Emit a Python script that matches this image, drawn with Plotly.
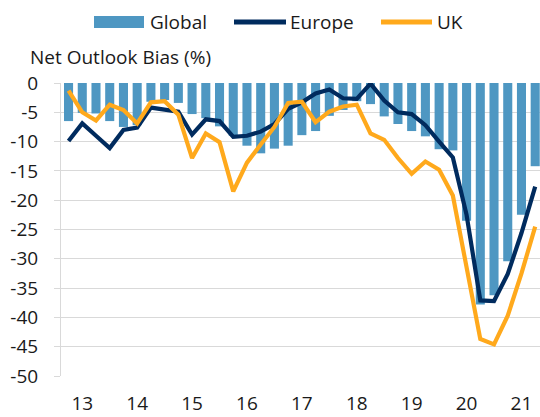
import plotly.graph_objects as go

# Quarterly observations (index 0 = first quarter shown)
quarter_index = list(range(35))
global_bias = [-6.5, -5.1, -5.2, -6.5, -7.5, -7.2, -3.2, -2.9, -3.4, -5.3,
               -6.0, -7.4, -9.0, -10.7, -12.0, -11.2, -10.7, -8.9, -8.2, -5.6,
               -4.6, -3.1, -3.6, -5.7, -7.0, -8.2, -9.1, -11.3, -11.5, -23.5,
               -37.8, -36.2, -30.4, -22.5, -14.2]
europe_bias = [-9.9, -6.9, -9.0, -11.1, -8.0, -7.6, -4.2, -4.6, -4.9, -8.8,
               -6.2, -6.5, -9.2, -9.0, -8.3, -7.0, -4.4, -3.3, -1.8, -1.1,
               -2.6, -2.7, -0.1, -3.0, -5.0, -5.3, -7.2, -10.0, -12.7, -22.5,
               -37.1, -37.2, -32.6, -25.6, -17.7]
uk_bias = [-1.3, -5.0, -6.4, -3.7, -4.6, -6.9, -3.3, -3.1, -5.4, -12.8,
           -8.6, -10.1, -18.5, -13.6, -10.5, -7.5, -3.4, -3.2, -6.7, -4.9,
           -4.0, -3.7, -8.6, -9.7, -12.8, -15.5, -13.4, -14.8, -19.2, -31.0,
           -43.7, -44.6, -39.7, -32.5, -24.5]

x_tick_positions = [1, 5, 9, 13, 17, 21, 25, 29, 33]
x_tick_labels = ["13", "14", "15", "16", "17", "18", "19", "20", "21"]
y_tick_values = [0, -5, -10, -15, -20, -25, -30, -35, -40, -45, -50]
y_tick_labels = ["0", "-5", "-10", "-15", "-20", "-25", "-30", "-35", "-40", "-45", "-50"]

C_GLOBAL = "#4E97C2"
C_EUROPE = "#002B5E"
C_UK = "#FFA91C"
FONT = "Open Sans"
FS = 19
TXT = "#1A1A1A"

W, H = 540, 417
L, R, T, B = 61, 0, 83, 41
PW, PH = W - L - R, H - T - B

def px_x(p):
    return (p - L) / PW

def px_y(p):
    return (H - B - p) / PH

fig = go.Figure()
fig.add_trace(go.Bar(x=quarter_index, y=global_bias, name="Global",
                     marker=dict(color=C_GLOBAL, line=dict(width=0)), width=0.66))
fig.add_trace(go.Scatter(x=quarter_index, y=europe_bias, name="Europe", mode="lines",
                         line=dict(color=C_EUROPE, width=4.2)))
fig.add_trace(go.Scatter(x=quarter_index, y=uk_bias, name="UK", mode="lines",
                         line=dict(color=C_UK, width=4.2)))

shapes = [
    dict(type="rect", xref="paper", yref="paper", x0=px_x(94), x1=px_x(144),
         y0=px_y(28), y1=px_y(16), fillcolor=C_GLOBAL, line=dict(width=0)),
    dict(type="line", xref="paper", yref="paper", x0=px_x(234), x1=px_x(286),
         y0=px_y(22), y1=px_y(22), line=dict(color=C_EUROPE, width=5)),
    dict(type="line", xref="paper", yref="paper", x0=px_x(381), x1=px_x(432),
         y0=px_y(22), y1=px_y(22), line=dict(color=C_UK, width=5)),
]
annotations = [
    dict(text="Global", xref="paper", yref="paper", x=px_x(148), y=px_y(22),
         xanchor="left", yanchor="middle", showarrow=False,
         font=dict(family=FONT, size=FS, color=TXT)),
    dict(text="Europe", xref="paper", yref="paper", x=px_x(288), y=px_y(22),
         xanchor="left", yanchor="middle", showarrow=False,
         font=dict(family=FONT, size=FS, color=TXT)),
    dict(text="UK", xref="paper", yref="paper", x=px_x(435), y=px_y(22),
         xanchor="left", yanchor="middle", showarrow=False,
         font=dict(family=FONT, size=FS, color=TXT)),
    dict(text="Net Outlook Bias (%)", xref="paper", yref="paper", x=px_x(28), y=px_y(57),
         xanchor="left", yanchor="middle", showarrow=False,
         font=dict(family=FONT, size=FS, color=TXT)),
]

fig.update_layout(
    width=W, height=H,
    margin=dict(l=L, r=R, t=T, b=B, pad=0),
    paper_bgcolor="white", plot_bgcolor="white",
    showlegend=False,
    font=dict(family=FONT, size=FS, color=TXT),
    shapes=shapes, annotations=annotations,
)
fig.update_xaxes(range=[-0.55, 34.35], tickmode="array", tickvals=x_tick_positions,
                 ticktext=x_tick_labels, showgrid=False, zeroline=False,
                 showline=False, ticks="outside", ticklen=10, tickcolor="rgba(0,0,0,0)",
                 tickfont=dict(family=FONT, size=FS, color=TXT))
fig.update_yaxes(range=[-50, 0], tickmode="array", tickvals=y_tick_values,
                 ticktext=y_tick_labels, showgrid=True, gridcolor="#D9D9D9", gridwidth=1,
                 zeroline=False, showline=True, linecolor="#D9D9D9", linewidth=1,
                 ticks="outside", ticklen=6, tickcolor="#D9D9D9",
                 ticklabelstandoff=12,
                 tickfont=dict(family=FONT, size=FS, color=TXT))

fig.write_html("out.html", config={"displayModeBar": False},
               post_script="document.body.style.margin='0';")
